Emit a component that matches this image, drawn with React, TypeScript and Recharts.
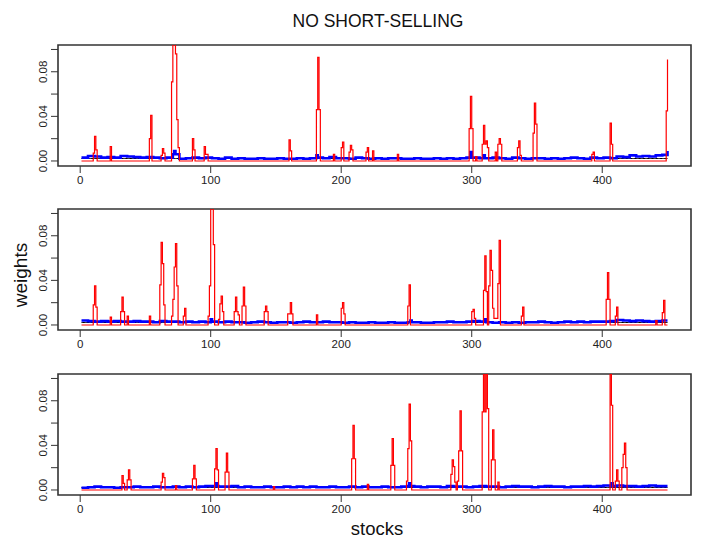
import { LineChart, Line, XAxis, YAxis, ReferenceArea } from 'recharts';

// stock indices 1..450
const STOCKS = Array.from({ length: 450 }, (_, k) => k + 1);
const X_TICKS = [0, 100, 200, 300, 400];
const Y_TICKS = [0, 0.02, 0.04, 0.06, 0.08, 0.1];
const X_DOMAIN: [number, number] = [-17, 468];
const Y_DOMAIN: [number, number] = [-0.0045, 0.104];
const EQUAL_WEIGHT = 1 / 450;

// red series: [stock, weight] where weight is not zero
const TOP_RED: [number, number][] = [
  [10, 0.007], [11, 0.022], [12, 0.01], [23, 0.013],
  [53, 0.02], [54, 0.041], [62, 0.005], [63, 0.011], [64, 0.007],
  [70, 0.071], [71, 0.104], [72, 0.104], [73, 0.096], [74, 0.037], [75, 0.012],
  [86, 0.02], [87, 0.01], [95, 0.013], [96, 0.006], [97, 0.006],
  [160, 0.019], [161, 0.009], [181, 0.046], [182, 0.093], [183, 0.046],
  [194, 0.006], [200, 0.012], [201, 0.017], [206, 0.008], [207, 0.014], [208, 0.01],
  [219, 0.008], [220, 0.012], [224, 0.009], [243, 0.006],
  [298, 0.029], [299, 0.058], [300, 0.029], [303, 0.004],
  [308, 0.015], [309, 0.032], [310, 0.015], [311, 0.018], [312, 0.012], [318, 0.008],
  [320, 0.015], [321, 0.02], [322, 0.015], [335, 0.012], [336, 0.018], [337, 0.005],
  [347, 0.025], [348, 0.052], [349, 0.033], [392, 0.006], [393, 0.008],
  [406, 0.034], [407, 0.015], [449, 0.045], [450, 0.091],
];

const MID_RED: [number, number][] = [
  [10, 0.018], [11, 0.035], [12, 0.016], [23, 0.007],
  [31, 0.012], [32, 0.025], [33, 0.012], [36, 0.008], [53, 0.008],
  [61, 0.036], [62, 0.074], [63, 0.055], [64, 0.018], [70, 0.008],
  [71, 0.023], [72, 0.052], [73, 0.073], [74, 0.035], [79, 0.008], [80, 0.015],
  [98, 0.008], [99, 0.035], [100, 0.104], [101, 0.104], [102, 0.072], [106, 0.005],
  [107, 0.019], [108, 0.026], [109, 0.012],
  [118, 0.012], [119, 0.025], [120, 0.012], [121, 0.009],
  [124, 0.017], [125, 0.034], [126, 0.017], [141, 0.012], [142, 0.017], [143, 0.012],
  [159, 0.01], [160, 0.01], [161, 0.02], [162, 0.01], [181, 0.009],
  [200, 0.015], [201, 0.02], [202, 0.01], [251, 0.017], [252, 0.036],
  [300, 0.012], [301, 0.014], [302, 0.006],
  [309, 0.031], [310, 0.062], [311, 0.03],
  [313, 0.035], [314, 0.067], [315, 0.049], [316, 0.015],
  [317, 0.006], [318, 0.006], [319, 0.006], [320, 0.037], [321, 0.076],
  [338, 0.008], [339, 0.016], [403, 0.023], [404, 0.047], [405, 0.023],
  [410, 0.008], [411, 0.016], [441, 0.004], [446, 0.011], [447, 0.022],
];

const BOT_RED: [number, number][] = [
  [32, 0.013], [33, 0.006], [36, 0.009], [37, 0.018], [38, 0.009],
  [62, 0.007], [63, 0.015], [64, 0.011], [73, 0.004],
  [86, 0.01], [87, 0.022], [88, 0.01], [103, 0.019], [104, 0.037], [105, 0.018],
  [111, 0.016], [112, 0.033], [113, 0.016], [148, 0.003],
  [208, 0.028], [209, 0.058], [210, 0.028], [220, 0.005],
  [238, 0.022], [239, 0.046], [240, 0.022],
  [250, 0.008], [251, 0.037], [252, 0.077], [253, 0.044],
  [284, 0.014], [285, 0.027], [286, 0.021], [287, 0.007], [289, 0.008],
  [290, 0.035], [291, 0.071], [292, 0.035],
  [308, 0.07], [309, 0.104], [310, 0.07], [311, 0.104], [312, 0.073],
  [315, 0.027], [316, 0.054], [317, 0.027], [320, 0.007],
  [406, 0.104], [407, 0.076], [410, 0.008], [411, 0.018], [412, 0.008],
  [415, 0.02], [416, 0.032], [417, 0.042], [418, 0.02],
];

// blue series: level per block of 5 stocks, plus single bumps
const TOP_BLUE = [
  0.003, 0.0045, 0.004, 0.003, 0.0035, 0.003, 0.0045, 0.004, 0.0035, 0.003,
  0.0035, 0.003, 0.0025, 0.003, 0.006, 0.002, 0.0025, 0.003, 0.0025, 0.003,
  0.0025, 0.002, 0.003, 0.002, 0.0025, 0.002, 0.002, 0.0025, 0.002, 0.002,
  0.0025, 0.002, 0.002, 0.0025, 0.002, 0.0025, 0.003, 0.0025, 0.0035, 0.0025,
  0.0025, 0.002, 0.003, 0.0025, 0.002, 0.0025, 0.002, 0.0025, 0.0025, 0.002,
  0.002, 0.0025, 0.002, 0.002, 0.0025, 0.002, 0.0025, 0.002, 0.0025, 0.003,
  0.003, 0.0025, 0.0025, 0.003, 0.0025, 0.002, 0.003, 0.0025, 0.002, 0.0025,
  0.0025, 0.002, 0.0025, 0.002, 0.0025, 0.003, 0.0025, 0.002, 0.003, 0.0025,
  0.003, 0.0025, 0.004, 0.0035, 0.005, 0.004, 0.0045, 0.004, 0.005, 0.0055,
];
const TOP_BLUE_BUMPS: [number, number][] = [[72, 0.009], [181, 0.005], [299, 0.008], [309, 0.005], [450, 0.009]];

const MID_BLUE = [
  0.004, 0.0035, 0.003, 0.0035, 0.003, 0.0035, 0.003, 0.003, 0.0035, 0.003,
  0.003, 0.0025, 0.0035, 0.003, 0.003, 0.0025, 0.003, 0.0025, 0.003, 0.0025,
  0.003, 0.0025, 0.003, 0.0025, 0.0025, 0.002, 0.0025, 0.003, 0.0025, 0.002,
  0.0025, 0.0025, 0.002, 0.0025, 0.003, 0.0025, 0.0025, 0.003, 0.0025, 0.0025,
  0.002, 0.0025, 0.002, 0.002, 0.0025, 0.002, 0.002, 0.0025, 0.002, 0.002,
  0.0025, 0.0025, 0.002, 0.002, 0.0025, 0.0025, 0.003, 0.0025, 0.0025, 0.003,
  0.0035, 0.003, 0.0025, 0.002, 0.0025, 0.002, 0.0025, 0.002, 0.0025, 0.0025,
  0.003, 0.0025, 0.002, 0.0025, 0.003, 0.0025, 0.003, 0.0025, 0.003, 0.003,
  0.003, 0.0035, 0.0045, 0.004, 0.0035, 0.004, 0.0035, 0.003, 0.0035, 0.004,
];
const MID_BLUE_BUMPS: [number, number][] = [[100, 0.005], [253, 0.004], [310, 0.005]];

const BOT_BLUE = [
  0.002, 0.0025, 0.003, 0.0025, 0.0025, 0.002, 0.0025, 0.0025, 0.003, 0.0025,
  0.0025, 0.003, 0.0025, 0.0025, 0.003, 0.0025, 0.003, 0.0025, 0.003, 0.0035,
  0.0035, 0.003, 0.003, 0.0035, 0.0025, 0.003, 0.0025, 0.0025, 0.003, 0.0025,
  0.0025, 0.003, 0.0025, 0.003, 0.0025, 0.003, 0.0025, 0.0025, 0.003, 0.0025,
  0.0025, 0.003, 0.0025, 0.003, 0.0025, 0.0025, 0.003, 0.0025, 0.0025, 0.003,
  0.0035, 0.003, 0.0025, 0.003, 0.003, 0.0025, 0.0035, 0.003, 0.003, 0.0025,
  0.003, 0.0035, 0.003, 0.003, 0.0025, 0.003, 0.0035, 0.003, 0.003, 0.0025,
  0.003, 0.0035, 0.003, 0.003, 0.0025, 0.003, 0.003, 0.0035, 0.003, 0.0035,
  0.004, 0.0035, 0.004, 0.0035, 0.0035, 0.003, 0.0035, 0.004, 0.0035, 0.0035,
];
const BOT_BLUE_BUMPS: [number, number][] = [[104, 0.006], [252, 0.006], [407, 0.006]];

const FONT = '"Liberation Sans", Arial, sans-serif';

function buildRows(red: [number, number][], blue: number[], bumps: [number, number][]) {
  const redMap = new Map(red);
  const bumpMap = new Map(bumps);
  return STOCKS.map((s) => ({
    stock: s,
    red: redMap.get(s) ?? 0,
    blue: bumpMap.get(s) ?? blue[Math.floor((s - 1) / 5)],
    equal: EQUAL_WEIGHT,
  }));
}

function YTick(props: any) {
  const { x, y, payload } = props;
  const v = payload.value as number;
  if (Math.round(v * 100) % 4 !== 0) return <g />;
  return (
    <text
      x={x}
      y={y}
      transform={`rotate(-90 ${x} ${y})`}
      textAnchor="middle"
      fontSize={11.5}
      fill="#222"
      fontFamily={FONT}
    >
      {v.toFixed(2)}
    </text>
  );
}

function Panel({ top, red, blue, bumps }: { top: number; red: [number, number][]; blue: number[]; bumps: [number, number][] }) {
  const rows = buildRows(red, blue, bumps);
  return (
    <div style={{ position: 'absolute', left: 0, top }}>
      <LineChart width={727} height={161} data={rows} margin={{ top: 10, right: 36, bottom: 0, left: 0 }}>
        <XAxis
          dataKey="stock"
          type="number"
          domain={X_DOMAIN}
          ticks={X_TICKS}
          interval={0}
          allowDataOverflow
          axisLine={false}
          tickSize={7}
          tickMargin={3}
          height={30}
          stroke="#333"
          tick={{ fontSize: 11.5, fill: '#222', fontFamily: FONT }}
        />
        <YAxis
          type="number"
          domain={Y_DOMAIN}
          ticks={Y_TICKS}
          interval={0}
          allowDataOverflow
          axisLine={false}
          tickSize={7}
          tickMargin={4}
          width={58}
          stroke="#333"
          tick={<YTick />}
        />
        <Line
          dataKey="equal"
          type="linear"
          stroke="#000"
          strokeWidth={1}
          dot={false}
          isAnimationActive={false}
        />
        <Line
          dataKey="blue"
          type="stepAfter"
          stroke="#0000ff"
          strokeWidth={2.6}
          dot={false}
          isAnimationActive={false}
        />
        <Line
          dataKey="red"
          type="stepAfter"
          stroke="#ff0000"
          strokeWidth={1.2}
          dot={false}
          isAnimationActive={false}
        />
        <ReferenceArea
          x1={X_DOMAIN[0]}
          x2={X_DOMAIN[1]}
          y1={Y_DOMAIN[0]}
          y2={Y_DOMAIN[1]}
          fill="none"
          fillOpacity={0}
          stroke="#333"
          strokeWidth={1.6}
          ifOverflow="visible"
        />
      </LineChart>
    </div>
  );
}

export default function App() {
  return (
    <div style={{ position: 'absolute', left: 0, top: 0, width: 727, height: 553, background: '#fff', fontFamily: FONT }}>
      <Panel top={35} red={TOP_RED} blue={TOP_BLUE} bumps={TOP_BLUE_BUMPS} />
      <Panel top={199} red={MID_RED} blue={MID_BLUE} bumps={MID_BLUE_BUMPS} />
      <Panel top={364} red={BOT_RED} blue={BOT_BLUE} bumps={BOT_BLUE_BUMPS} />
      <svg width={727} height={553} style={{ position: 'absolute', left: 0, top: 0, pointerEvents: 'none' }}>
        <text x={378} y={26.5} textAnchor="middle" fontSize={17.5} fill="#111" fontFamily={FONT}>
          NO SHORT-SELLING
        </text>
        <text x={27} y={275} textAnchor="middle" fontSize={19} fill="#111" fontFamily={FONT} transform="rotate(-90 27 275)">
          weights
        </text>
        <text x={377} y={535} textAnchor="middle" fontSize={18.5} fill="#111" fontFamily={FONT}>
          stocks
        </text>
      </svg>
    </div>
  );
}
